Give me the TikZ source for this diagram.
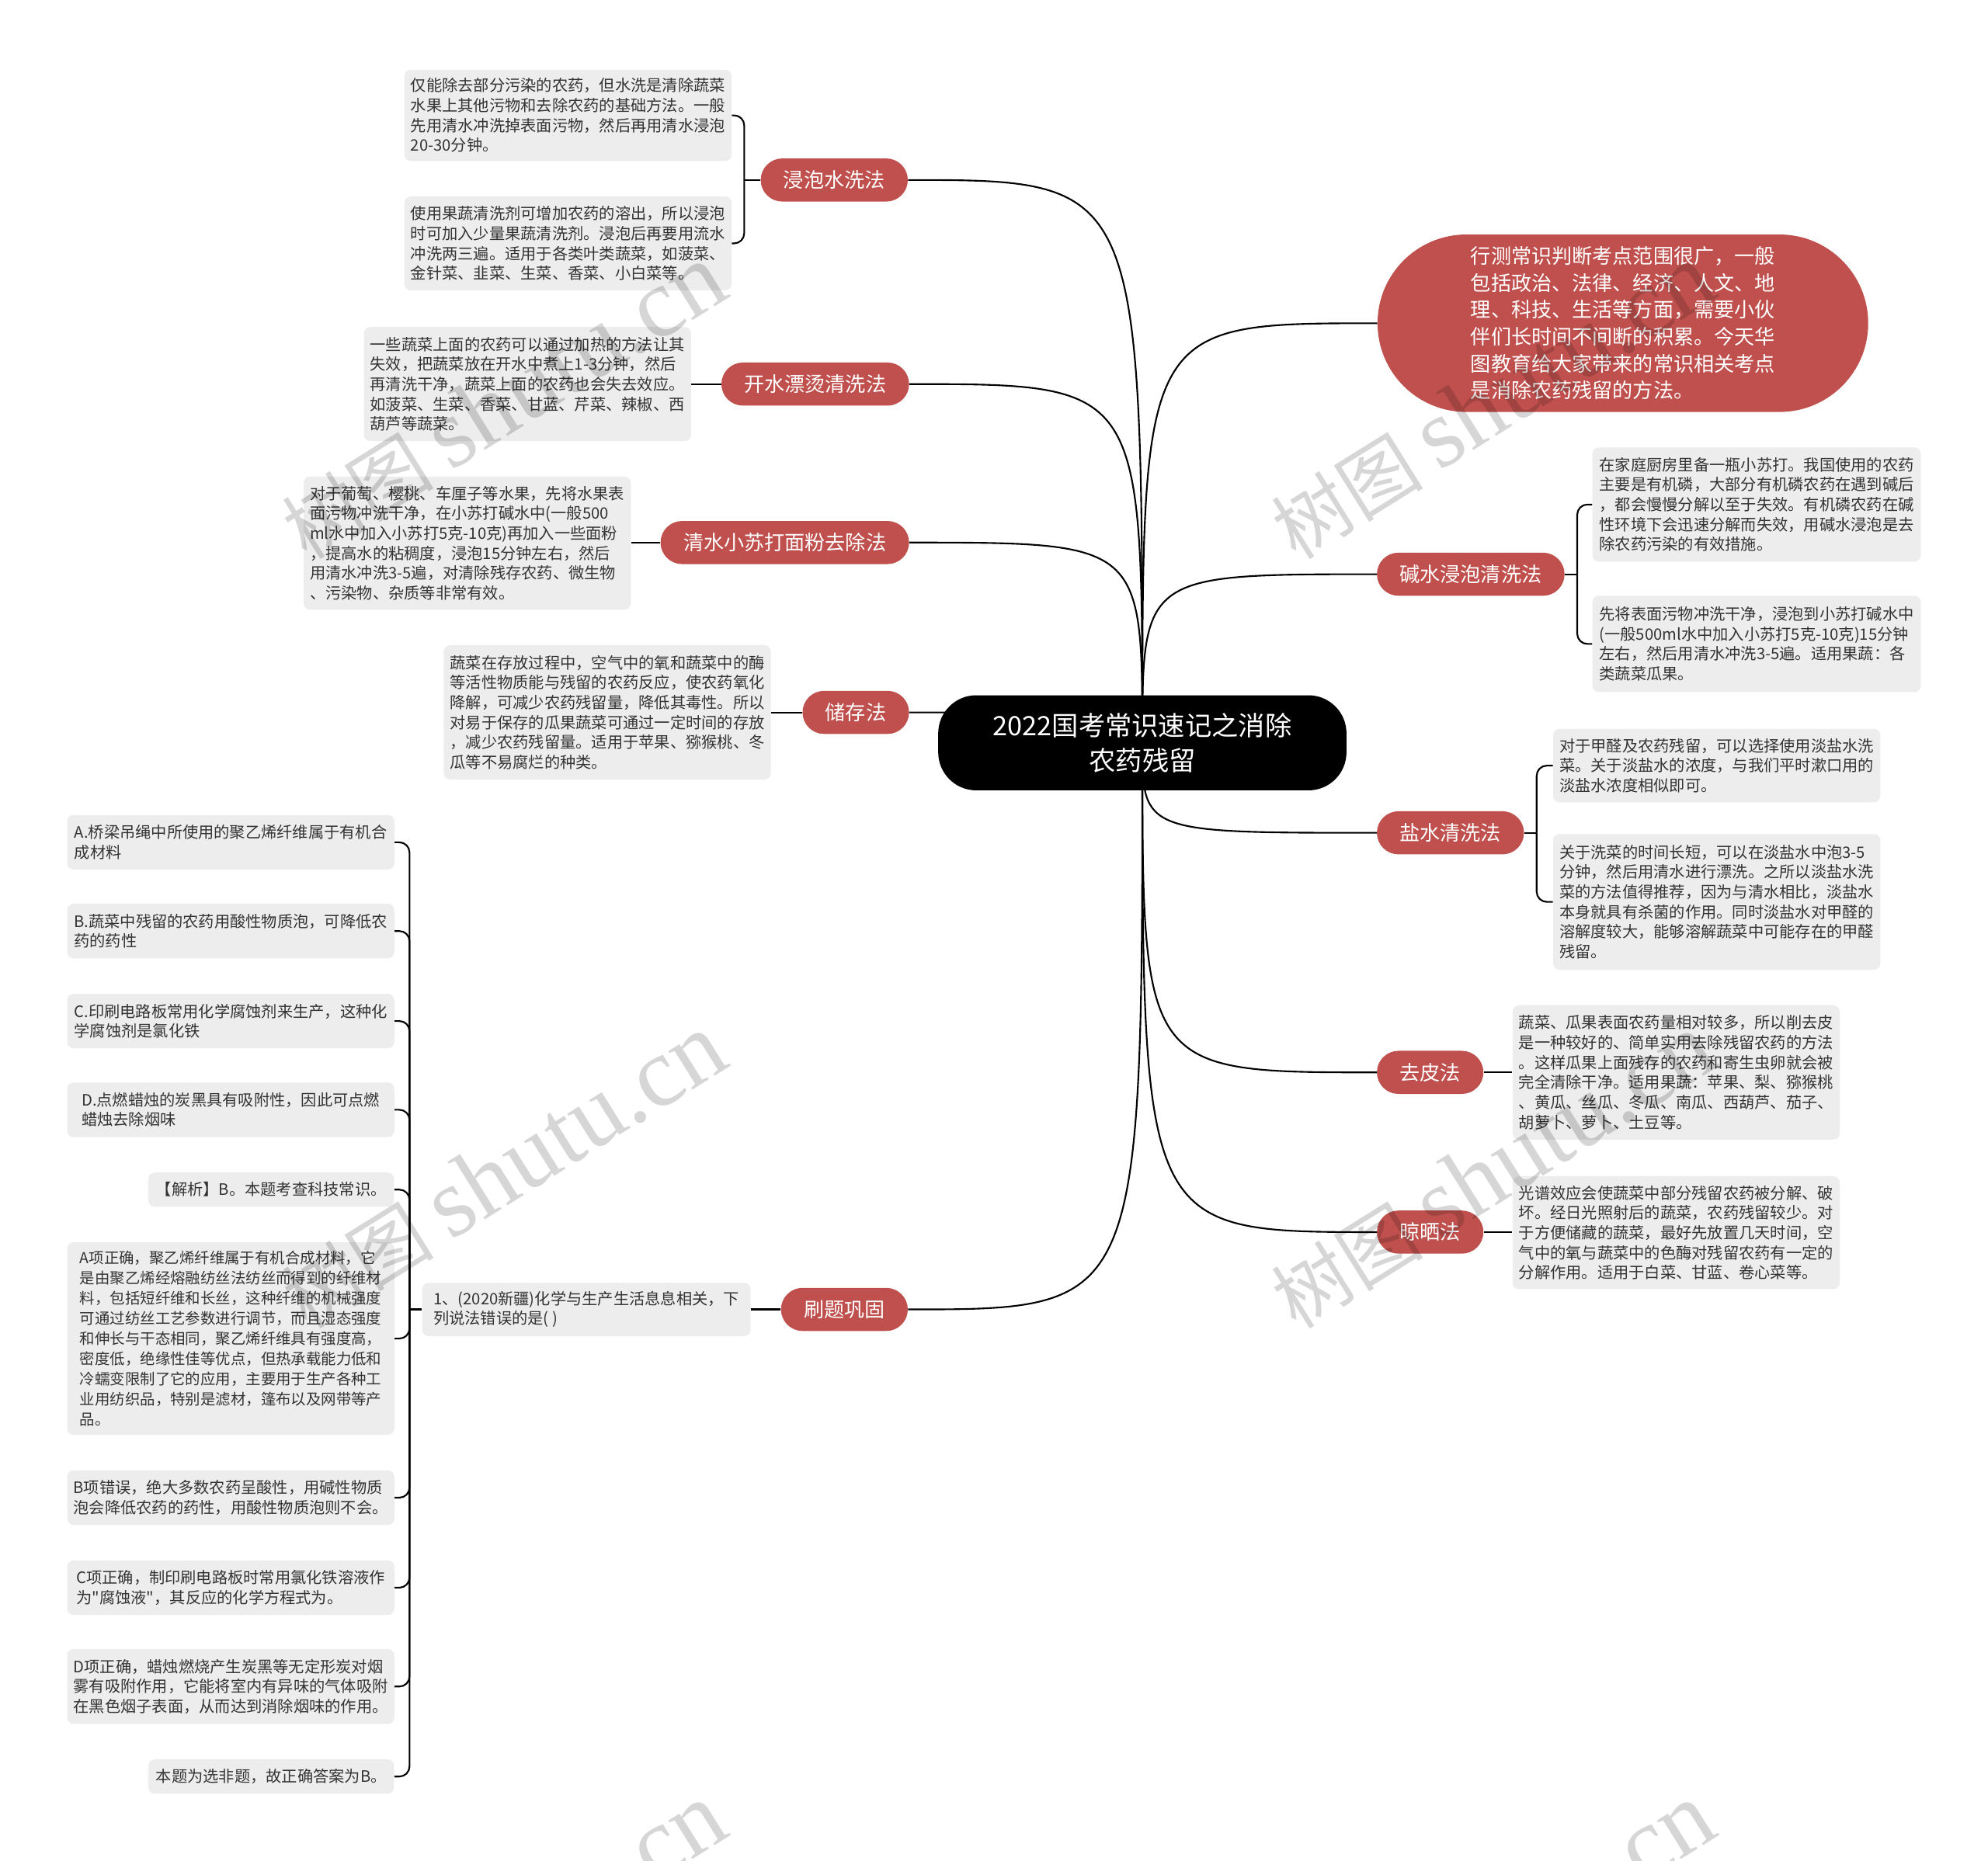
\documentclass[tikz,border=0pt]{standalone}
\usepackage{fontspec}
\setmainfont{Noto Sans CJK SC}[Ligatures=TeXOff]
\newfontfamily\wmserif{Liberation Serif}
\usetikzlibrary{calc}
\pgfdeclarelayer{bg}
\pgfdeclarelayer{fg}
\pgfsetlayers{bg,main,fg}
\definecolor{nodered}{HTML}{C0504D}
\definecolor{boxgray}{HTML}{EDEDED}
\definecolor{txtgray}{HTML}{333333}
\tikzset{
  link/.style={line width=1.3pt, black},
  bracket/.style={line width=1.3pt, black, rounded corners=8pt},
  rootnode/.style={fill=black, text=white, rounded corners=30pt, minimum width=322pt, minimum height=75pt, align=center, font=\fontsize{21}{28}\selectfont},
  rednode/.style={fill=nodered, text=white, rounded corners=17pt, minimum height=34pt, inner xsep=18pt, inner ysep=0pt, font=\fontsize{16}{19}\selectfont},
  intronode/.style={fill=nodered, text=white, rounded corners=70pt, minimum width=387pt, minimum height=140pt, align=left, font=\fontsize{16}{21.2}\selectfont},
  detail/.style={fill=boxgray, text=txtgray, rounded corners=5pt, align=left, inner sep=5pt, font=\fontsize{12.4}{15.7}\selectfont, minimum width=258pt},
  detailauto/.style={fill=boxgray, text=txtgray, rounded corners=5pt, align=left, inner xsep=6pt, inner ysep=4pt, font=\fontsize{12.4}{15.7}\selectfont, minimum height=27pt},
  wm/.style={text=black, opacity=0.16, rotate=32, font=\fontsize{60}{70}\selectfont}
}
\begin{document}
\begin{tikzpicture}[x=1pt,y=-1pt]
\useasboundingbox (0,0) rectangle (1568,1468);

% root
\node[rootnode] (root) at (901,586) {2022国考常识速记之消除\\农药残留};

% left level-1
\node[rednode] (c1) at (658,142) {浸泡水洗法};
\node[rednode] (c2) at (643,303) {开水漂烫清洗法};
\node[rednode] (c3) at (619,428) {清水小苏打面粉去除法};
\node[rednode] (c4) at (675,562) {储存法};
\node[rednode] (c5) at (666,1033) {刷题巩固};

% right level-1
\node[intronode] (c6) at (1280,255) {行测常识判断考点范围很广，一般\\包括政治、法律、经济、人文、地\\理、科技、生活等方面，需要小伙\\伴们长时间不间断的积累。今天华\\图教育给大家带来的常识相关考点\\是消除农药残留的方法。};
\node[rednode] (c7) at (1160,453) {碱水浸泡清洗法};
\node[rednode] (c8) at (1144,657) {盐水清洗法};
\node[rednode] (c9) at (1128,846) {去皮法};
\node[rednode] (c10) at (1128,972) {晾晒法};

% left details
\node[detail, minimum height=72pt] (d1a) at (448,91) {仅能除去部分污染的农药，但水洗是清除蔬菜\\水果上其他污物和去除农药的基础方法。一般\\先用清水冲洗掉表面污物，然后再用清水浸泡\\20-30分钟。};
\node[detail, minimum height=74pt] (d1b) at (448,192) {使用果蔬清洗剂可增加农药的溶出，所以浸泡\\时可加入少量果蔬清洗剂。浸泡后再要用流水\\冲洗两三遍。适用于各类叶类蔬菜，如菠菜、\\金针菜、韭菜、生菜、香菜、小白菜等。};
\node[detail, minimum height=90pt] (d2) at (416,303) {一些蔬菜上面的农药可以通过加热的方法让其\\失效，把蔬菜放在开水中煮上1-3分钟，然后\\再清洗干净，蔬菜上面的农药也会失去效应。\\如菠菜、生菜、香菜、甘蓝、芹菜、辣椒、西\\葫芦等蔬菜。};
\node[detail, minimum height=105pt] (d3) at (368.5,428.5) {对于葡萄、樱桃、车厘子等水果，先将水果表\\面污物冲洗干净，在小苏打碱水中(一般500\\ml水中加入小苏打5克-10克)再加入一些面粉\\，提高水的粘稠度，浸泡15分钟左右，然后\\用清水冲洗3-5遍，对清除残存农药、微生物\\、污染物、杂质等非常有效。};
\node[detail, minimum height=106pt] (d4) at (479,562) {蔬菜在存放过程中，空气中的氧和蔬菜中的酶\\等活性物质能与残留的农药反应，使农药氧化\\降解，可减少农药残留量，降低其毒性。所以\\对易于保存的瓜果蔬菜可通过一定时间的存放\\，减少农药残留量。适用于苹果、猕猴桃、冬\\瓜等不易腐烂的种类。};

% right details
\node[detail, minimum width=259pt, minimum height=90pt] (d7a) at (1385.5,398) {在家庭厨房里备一瓶小苏打。我国使用的农药\\主要是有机磷，大部分有机磷农药在遇到碱后\\，都会慢慢分解以至于失效。有机磷农药在碱\\性环境下会迅速分解而失效，用碱水浸泡是去\\除农药污染的有效措施。};
\node[detail, minimum width=259pt, minimum height=76pt] (d7b) at (1385.5,508) {先将表面污物冲洗干净，浸泡到小苏打碱水中\\(一般500ml水中加入小苏打5克-10克)15分钟\\左右，然后用清水冲洗3-5遍。适用果蔬：各\\类蔬菜瓜果。};
\node[detail, minimum height=58pt] (d8a) at (1354,604) {对于甲醛及农药残留，可以选择使用淡盐水洗\\菜。关于淡盐水的浓度，与我们平时漱口用的\\淡盐水浓度相似即可。};
\node[detail, minimum height=107pt] (d8b) at (1354,711.5) {关于洗菜的时间长短，可以在淡盐水中泡3-5\\分钟，然后用清水进行漂洗。之所以淡盐水洗\\菜的方法值得推荐，因为与清水相比，淡盐水\\本身就具有杀菌的作用。同时淡盐水对甲醛的\\溶解度较大，能够溶解蔬菜中可能存在的甲醛\\残留。};
\node[detail, minimum height=106pt] (d9) at (1322,846) {蔬菜、瓜果表面农药量相对较多，所以削去皮\\是一种较好的、简单实用去除残留农药的方法\\。这样瓜果上面残存的农药和寄生虫卵就会被\\完全清除干净。适用果蔬：苹果、梨、猕猴桃\\、黄瓜、丝瓜、冬瓜、南瓜、西葫芦、茄子、\\胡萝卜、萝卜、土豆等。};
\node[detail, minimum height=89pt] (d10) at (1322,972.5) {光谱效应会使蔬菜中部分残留农药被分解、破\\坏。经日光照射后的蔬菜，农药残留较少。对\\于方便储藏的蔬菜，最好先放置几天时间，空\\气中的氧与蔬菜中的色酶对残留农药有一定的\\分解作用。适用于白菜、甘蓝、卷心菜等。};

% question and answers
\node[detail, minimum width=259pt, minimum height=42pt] (q) at (462.5,1033) {1、(2020新疆)化学与生产生活息息相关，下\\列说法错误的是( )};
\node[detail, minimum height=43pt] (a1) at (182,664.5) {A.桥梁吊绳中所使用的聚乙烯纤维属于有机合\\成材料};
\node[detail, minimum height=43pt] (a2) at (182,734.5) {B.蔬菜中残留的农药用酸性物质泡，可降低农\\药的药性};
\node[detail, minimum height=43pt] (a3) at (182,805.5) {C.印刷电路板常用化学腐蚀剂来生产，这种化\\学腐蚀剂是氯化铁};
\node[detail, minimum height=43pt] (a4) at (182,875.5) {D.点燃蜡烛的炭黑具有吸附性，因此可点燃\\蜡烛去除烟味};
\node[detailauto, anchor=east] (a5) at (311,938.5) {【解析】B。本题考查科技常识。};
\node[detail, minimum height=152pt, font=\fontsize{11.9}{15.9}\selectfont] (a6) at (182,1056) {A项正确，聚乙烯纤维属于有机合成材料，它\\是由聚乙烯经熔融纺丝法纺丝而得到的纤维材\\料，包括短纤维和长丝，这种纤维的机械强度\\可通过纺丝工艺参数进行调节，而且湿态强度\\和伸长与干态相同，聚乙烯纤维具有强度高，\\密度低，绝缘性佳等优点，但热承载能力低和\\冷蠕变限制了它的应用，主要用于生产各种工\\业用纺织品，特别是滤材，篷布以及网带等产\\品。};
\node[detail, minimum height=43pt] (a7) at (182,1181.5) {B项错误，绝大多数农药呈酸性，用碱性物质\\泡会降低农药的药性，用酸性物质泡则不会。};
\node[detail, minimum height=43pt] (a8) at (182,1252.5) {C项正确，制印刷电路板时常用氯化铁溶液作\\为"腐蚀液"，其反应的化学方程式为。};
\node[detail, minimum height=59pt] (a9) at (182,1330.5) {D项正确，蜡烛燃烧产生炭黑等无定形炭对烟\\雾有吸附作用，它能将室内有异味的气体吸附\\在黑色烟子表面，从而达到消除烟味的作用。};
\node[detailauto, anchor=east] (a10) at (311,1401.5) {本题为选非题，故正确答案为B。};

% bracket points
\coordinate (b1) at (587,142);
\coordinate (b7) at (1244,453);
\coordinate (b8) at (1212,657);
\coordinate (bq) at (323,1033);

\begin{pgfonlayer}{bg}
  \fill[white] (0,0) rectangle (1568,1468);
  % root to level-1
  \foreach \c in {c1,c2,c3,c4,c5}
    \draw[link] (root.center) .. controls (root.center |- \c.east) .. (\c.east);
  \foreach \c in {c6,c7,c8,c9,c10}
    \draw[link] (root.center) .. controls (root.center |- \c.west) .. (\c.west);
  % level-1 to details
  \draw[link] (c1.west) -- (b1);
  \draw[bracket] (d1a.east) -| (b1);
  \draw[bracket] (d1b.east) -| (b1);
  \draw[link] (c2.west) -- (d2.east |- c2.west);
  \draw[link] (c3.west) -- (d3.east |- c3.west);
  \draw[link] (c4.west) -- (d4.east |- c4.west);
  \draw[link] (c7.east) -- (b7);
  \draw[bracket] (d7a.west) -| (b7);
  \draw[bracket] (d7b.west) -| (b7);
  \draw[link] (c8.east) -- (b8);
  \draw[bracket] (d8a.west) -| (b8);
  \draw[bracket] (d8b.west) -| (b8);
  \draw[link] (c9.east) -- (d9.west |- c9.east);
  \draw[link] (c10.east) -- (d10.west |- c10.east);
  \draw[link] (c5.west) -- (q.east |- c5.west);
  \draw[link] (q.west) -- (bq);
  \foreach \a in {a1,a2,a3,a4,a5,a6,a7,a8,a9,a10}
    \draw[bracket] (\a.east) -| (bq);
\end{pgfonlayer}

\begin{pgfonlayer}{fg}
  \clip (0,0) rectangle (1568,1468);
  \node[wm] (wm1) at (397,317) {树图 {\wmserif\fontsize{78}{80}\selectfont shutu.cn}};
  \node[wm] (wm2) at (1177,317) {树图 {\wmserif\fontsize{78}{80}\selectfont shutu.cn}};
  \node[wm] (wm3) at (397,924) {树图 {\wmserif\fontsize{78}{80}\selectfont shutu.cn}};
  \node[wm] (wm4) at (1177,924) {树图 {\wmserif\fontsize{78}{80}\selectfont shutu.cn}};
  \node[wm] (wm5) at (397,1531) {树图 {\wmserif\fontsize{78}{80}\selectfont shutu.cn}};
  \node[wm] (wm6) at (1177,1531) {树图 {\wmserif\fontsize{78}{80}\selectfont shutu.cn}};
\end{pgfonlayer}
\end{tikzpicture}
\end{document}
